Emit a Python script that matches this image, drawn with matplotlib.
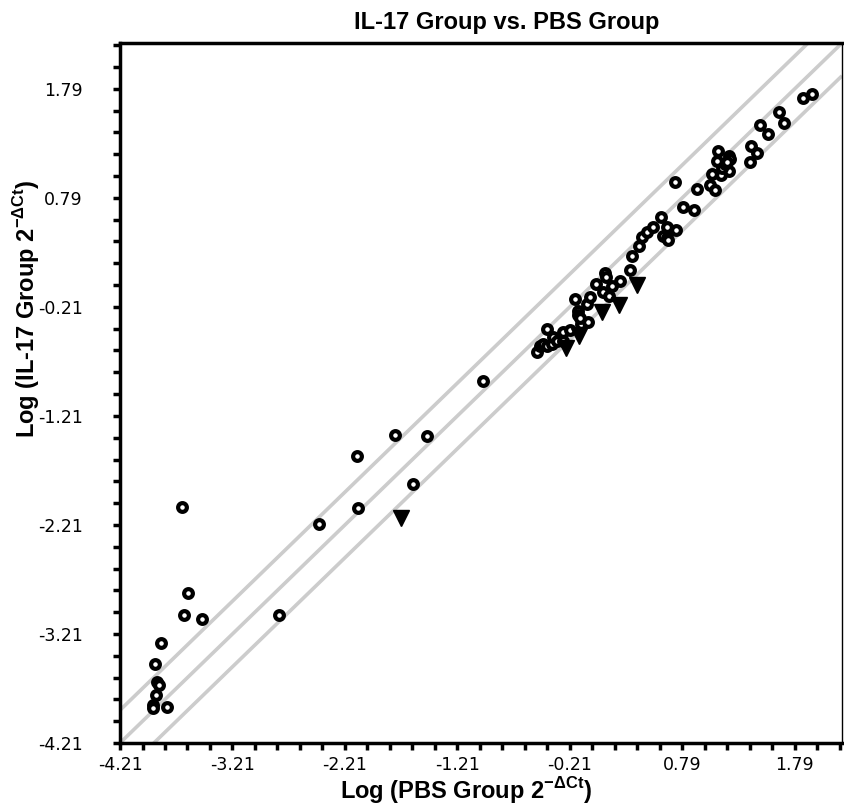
import numpy as np
import matplotlib
matplotlib.use("Agg")
import matplotlib.pyplot as plt
from matplotlib.ticker import FixedLocator

# Circles: log10(2^-dCt) of PBS group (x) vs IL-17 group (y)
circ_x = [-3.659, -3.606, -3.641, -3.481, -3.846, -3.899, -3.881, -3.863, -3.890, -3.917, -3.917, -3.792,
          -2.103, -1.766, -1.481, -1.606, -2.094, -2.441, -2.797, -0.983,
          -0.503, -0.477, -0.450, -0.414, -0.370, -0.414, -0.361, -0.326, -0.272, -0.272, -0.210,
          -0.166, -0.112, -0.050, -0.139, -0.139, -0.121, -0.059, -0.032, 0.021, 0.083, 0.137,
          0.101, 0.110, 0.163, 0.234, 0.323, 0.341, 0.403, 0.430, 0.474, 0.528, 0.599, 0.652,
          0.732, 0.617, 0.652, 0.661, 0.723, 0.794, 0.892, 0.919, 1.034, 1.079, 1.052, 1.132,
          1.203, 1.141, 1.168, 1.203, 1.212, 1.184, 1.106, 1.097, 1.399, 1.452, 1.390, 1.479,
          1.550, 1.648, 1.692, 1.861, 1.941]
circ_y = [-2.047, -2.835, -3.036, -3.073, -3.292, -3.485, -3.650, -3.677, -3.769, -3.860, -3.888, -3.878,
          -1.580, -1.388, -1.397, -1.836, -2.056, -2.203, -3.036, -0.893,
          -0.628, -0.573, -0.554, -0.573, -0.554, -0.417, -0.490, -0.527, -0.527, -0.444, -0.426,
          -0.142, -0.371, -0.353, -0.252, -0.289, -0.316, -0.188, -0.115, 0.004, -0.078, -0.106,
          0.105, 0.068, -0.023, 0.023, 0.132, 0.252, 0.352, 0.435, 0.480, 0.526, 0.618, 0.526,
          0.499, 0.444, 0.426, 0.407, 0.938, 0.709, 0.682, 0.874, 0.911, 0.865, 1.012, 1.003,
          1.039, 1.067, 1.103, 1.176, 1.149, 1.121, 1.222, 1.131, 1.268, 1.204, 1.121, 1.460,
          1.378, 1.579, 1.479, 1.708, 1.744]

# Triangles (down-regulated genes)
tri_x = [-1.712, -0.246, -0.130, 0.074, 0.226, 0.386]
tri_y = [-2.148, -0.591, -0.481, -0.261, -0.197, -0.005]

ticks = [-4.21, -3.21, -2.21, -1.21, -0.21, 0.79, 1.79]
tick_labels = ["-4.21", "-3.21", "-2.21", "-1.21", "-0.21", "0.79", "1.79"]
lim = (-4.21, 2.21)
fold = np.log10(2.0)

bold_font = ['Liberation Sans', 'DejaVu Sans']

fig = plt.figure(figsize=(8.44, 8.07), dpi=100)
ax = fig.add_axes([0.1422, 0.0793, 0.9976 - 0.1422, 0.9467 - 0.0793])

xx = np.array(lim)
for off in (fold, 0.0, -fold):
    ax.plot(xx, xx + off, color='#cccccc', lw=2.6, zorder=1, solid_capstyle='butt')

ax.plot(circ_x, circ_y, linestyle='none', marker='o', markersize=6.3,
        markerfacecolor='white', markeredgecolor='black', markeredgewidth=3.0, zorder=3)
ax.plot(tri_x, tri_y, linestyle='none', marker='v', markersize=12,
        markerfacecolor='black', markeredgecolor='black', zorder=4)

ax.set_xlim(lim)
ax.set_ylim(lim)
ax.set_xticks(ticks)
ax.set_xticklabels(tick_labels)
ax.set_yticks(ticks)
ax.set_yticklabels(tick_labels)
minor = [t + d for t in ticks for d in (0.2, 0.4, 0.6, 0.8)]
minor = [m for m in minor if lim[0] < m < lim[1]]
ax.xaxis.set_minor_locator(FixedLocator(minor))
ax.yaxis.set_minor_locator(FixedLocator(minor))
ax.tick_params(which='both', direction='out', length=5, width=2.5, color='black',
               top=False, right=False)
ax.tick_params(axis='x', which='major', labelsize=12.5, pad=4)
ax.tick_params(axis='y', which='major', labelsize=12.5, pad=22)
for lab in ax.get_xticklabels() + ax.get_yticklabels():
    lab.set_family('DejaVu Sans')

for s in ax.spines.values():
    s.set_linewidth(2.5)
    s.set_color('black')
ax.spines['right'].set_linewidth(1.0)

ax.set_title('IL-17 Group vs. PBS Group', family=bold_font, fontweight='bold', fontsize=17,
             x=0.535, pad=10)
ax.set_xlabel(r'Log (PBS Group 2$^{\mathregular{-ΔCt}}$)', family=bold_font, fontweight='bold',
              fontsize=17)
ax.set_ylabel(r'Log (IL-17 Group 2$^{\mathregular{-ΔCt}}$)', family=bold_font, fontweight='bold',
              fontsize=17)
ax.xaxis.set_label_coords(0.48, -0.046)
ax.yaxis.set_label_coords(-0.108, 0.62)

fig.savefig('out.png', dpi=100)
